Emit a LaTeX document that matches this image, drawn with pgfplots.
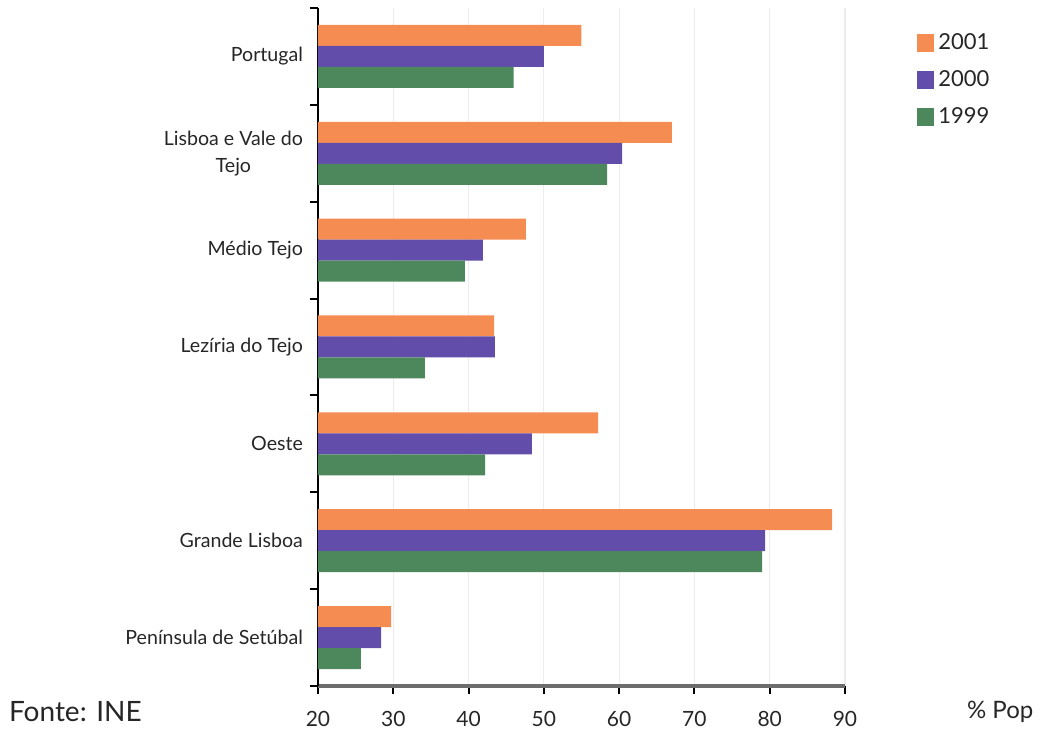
\documentclass[border=0pt]{standalone}
\usepackage{pgfplots}
\pgfplotsset{compat=1.18}
\usepackage{pgfplotstable}
\usepackage{fontspec}
\setmainfont{Lato}
\definecolor{cA}{RGB}{245,140,82}
\definecolor{cB}{RGB}{98,78,170}
\definecolor{cC}{RGB}{76,136,92}
\pgfplotstableread{
y a b c
6 55 50 46
5 67 60.4 58.4
4 47.6 41.9 39.5
3 43.4 43.5 34.2
2 57.2 48.4 42.2
1 88.3 79.4 79
0 29.7 28.4 25.7
}\data
\begin{document}
\begin{tikzpicture}[x=1pt,y=1pt]
\path[use as bounding box] (-159pt,-21.5pt) rectangle (361.5pt,343pt);
\begin{axis}[
  at={(0,0)}, anchor=south west,
  scale only axis, width=263.5pt, height=339pt,
  xmin=20, xmax=90, ymin=-0.5, ymax=6.5,
  xbar, bar width=10.5pt,
  xtick={20,30,...,90},
  xmajorgrids, grid style={gray!15, line width=0.6pt},
  axis lines*=left,
  x axis line style={line width=2pt, draw=gray!85!black},
  y axis line style={line width=1.2pt, draw=black},
  tick align=outside,
  xtick style={black, line width=1pt},
  major tick length=4pt,
  ytick={-0.5,0.5,...,6.5}, yticklabels={},
  ytick style={black, line width=1pt},
  extra y ticks={0,1,2,3,4,5,6},
  extra y tick labels={Península de Setúbal,Grande Lisboa,Oeste,Lezíria do Tejo,Médio Tejo,{Lisboa e Vale do\\Tejo},Portugal},
  extra y tick style={major tick length=0pt},
  yticklabel style={align=center, font=\fontsize{9.8}{13.5}\selectfont, text=black!85, xshift=-4pt},
  xticklabel style={font=\fontsize{10.5}{12}\selectfont, text=black!85, yshift=-5pt},
  /pgf/number format/assume math mode=true,
  legend style={draw=none, fill=none, at={(1.125,0.975)}, anchor=north west,
    font=\fontsize{11}{13}\selectfont, row sep=5pt, text=black!85},
  legend cell align=left,
  legend image code/.code={\fill[#1] (0pt,-4.5pt) rectangle (8.5pt,4.5pt);},
]
\addplot[fill=cA, draw=none, bar shift=10.5pt] table[x=a,y=y]{\data};
\addplot[fill=cB, draw=none, bar shift=0pt] table[x=b,y=y]{\data};
\addplot[fill=cC, draw=none, bar shift=-10.5pt] table[x=c,y=y]{\data};
\legend{2001,2000,1999}
\end{axis}
\node[anchor=west, font=\fontsize{14}{16}\selectfont, text=black!85] at (-158pt,-13pt) {Fonte: INE};
\node[anchor=west, font=\fontsize{12}{16}\selectfont, text=black!85] at (321pt,-13pt) {\% Pop};
\end{tikzpicture}
\end{document}
